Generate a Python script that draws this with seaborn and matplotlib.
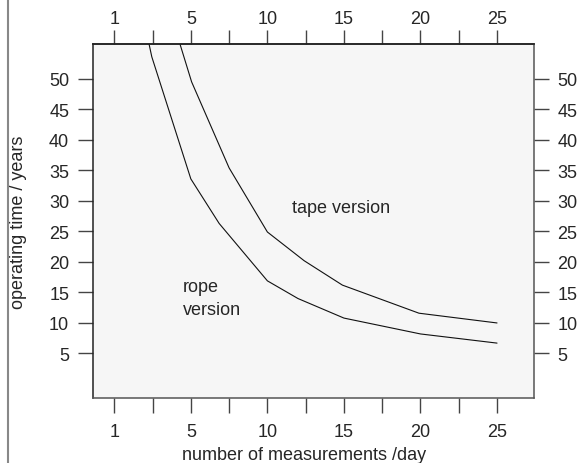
import matplotlib
matplotlib.use("Agg")
import matplotlib.pyplot as plt
from matplotlib.lines import Line2D
import seaborn as sns
import pandas as pd

rope_x = [2.27, 2.45, 5.0, 6.85, 10.0, 12.0, 15.0, 20.0, 25.0]
rope_y = [55.7, 53.6, 33.6, 26.3, 16.9, 14.0, 10.8, 8.2, 6.7]
tape_x = [4.29, 5.05, 7.5, 10.0, 12.4, 14.9, 19.9, 25.0]
tape_y = [55.7, 49.5, 35.4, 24.9, 20.2, 16.2, 11.6, 10.0]

x_ticks = [0, 2.5, 5, 7.5, 10, 12.5, 15, 17.5, 20, 22.5, 25]
x_tick_labels = ["1", "", "5", "", "10", "", "15", "", "20", "", "25"]
y_ticks = [5, 10, 15, 20, 25, 30, 35, 40, 45, 50]

sns.set_style("ticks")
plt.rcParams['font.family'] = ['Liberation Sans', 'DejaVu Sans']
fs = 13

df = pd.concat([
    pd.DataFrame({'x': rope_x, 'y': rope_y, 'version': 'rope'}),
    pd.DataFrame({'x': tape_x, 'y': tape_y, 'version': 'tape'}),
])

fig = plt.figure(figsize=(5.84, 4.64), dpi=100)
ax = fig.add_axes([0.159, 0.140, 0.755, 0.763])
ax.set_facecolor('#f6f6f6')

sns.lineplot(data=df, x='x', y='y', hue='version', palette=['#111111', '#111111'],
             estimator=None, sort=False, lw=0.8, legend=False, ax=ax)

ax.set_xlim(-1.4, 27.4)
ax.set_ylim(-2.3, 55.7)

# tick lengths / pads are in points (1 pt = 1.39 px here)
tick_col = '#444444'
ax.set_xticks(x_ticks, labels=x_tick_labels)
ax.set_yticks(y_ticks)
ax.tick_params(axis='x', direction='out', length=10.5, width=1.0, pad=7.5, color=tick_col, labelsize=fs)
ax.tick_params(axis='y', direction='out', length=11, width=1.0, pad=6, color=tick_col, labelsize=fs,
               right=True, labelright=True)

top = ax.secondary_xaxis('top')
top.set_xticks(x_ticks, labels=x_tick_labels)
top.tick_params(direction='out', length=10, width=1.0, pad=2, color=tick_col, labelsize=fs)

for s in ['top', 'left']:
    ax.spines[s].set_color('#222222')
for s in ['bottom', 'right']:
    ax.spines[s].set_color('#555555')
for sp in list(ax.spines.values()) + list(top.spines.values()):
    sp.set_linewidth(1.1)
top.spines['top'].set_color('#222222')

ax.set_xlabel('number of measurements /day', fontsize=fs)
ax.xaxis.set_label_coords(0.478, -0.135)
ax.set_ylabel('operating time / years', fontsize=fs)
ax.yaxis.set_label_coords(-0.15, 0.5)

ax.text(11.6, 28.9, 'tape version', fontsize=fs, va='center', ha='left')
ax.text(4.5, 14.1, 'rope\nversion', fontsize=fs, va='center', ha='left', linespacing=1.5)

fig.add_artist(Line2D([0.013, 0.013], [0, 1], transform=fig.transFigure,
                      color='#888888', lw=1.5))

fig.savefig('out.png', dpi=100)
